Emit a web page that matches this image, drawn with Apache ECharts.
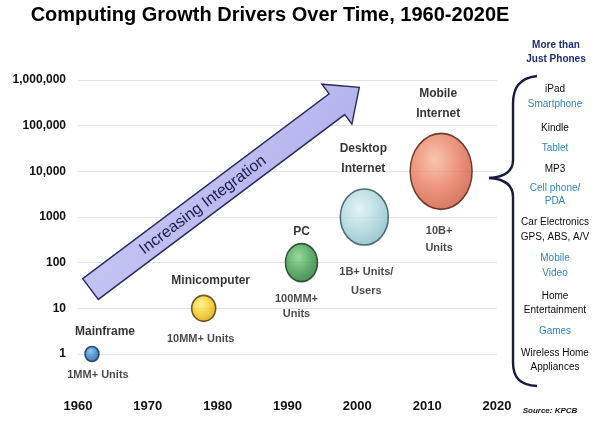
<!DOCTYPE html>
<html>
<head>
<meta charset="utf-8">
<title>Computing Growth Drivers Over Time</title>
<script src="https://cdn.jsdelivr.net/npm/echarts@6/dist/echarts.min.js"></script>
<style>
  html, body { margin: 0; padding: 0; background: #ffffff; }
  #chart { width: 596px; height: 421px; }
</style>
</head>
<body>
<div id="chart"></div>
<script>
// ---- data ----
const eras = ['Mainframe', 'Minicomputer', 'PC', 'Desktop\nInternet', 'Mobile\nInternet'];
const eraYears = [1962, 1978, 1992, 2001, 2012];
const unitsMM = [1, 10, 100, 1000, 10000];          // installed units, millions
const unitText = ['1MM+ Units', '10MM+ Units', '100MM+\nUnits', '1B+ Units/\nUsers', '10B+\nUnits'];

const xTicks = [1960, 1970, 1980, 1990, 2000, 2010, 2020];
const yTicks = [1, 10, 100, 1000, 10000, 100000, 1000000];
const yTickText = ['1', '10', '100', '1000', '10,000', '100,000', '1,000,000'];

const deviceItems = ['iPad', 'Smartphone', 'Kindle', 'Tablet', 'MP3', 'Cell phone/\nPDA',
  'Car Electronics\nGPS, ABS, A/V', 'Mobile\nVideo', 'Home\nEntertainment', 'Games',
  'Wireless Home\nAppliances'];
const deviceHighlight = [false, true, false, true, false, true, false, true, false, true, false];

// ---- styling ----
const FONT = '"Liberation Sans", Arial, sans-serif';
const NARROW = '"Liberation Sans Narrow", "Arial Narrow", "Liberation Sans", sans-serif';

const bubbleSize = [[14, 15], [24, 26], [32, 38], [48, 56], [62, 76]];
const bubbleFill = [
  ['#6fb8ee', '#2a78bf', '#15507f'],
  ['#fff07a', '#f2c514', '#c79a00'],
  ['#7fcf86', '#3c9a48', '#236b2e'],
  ['#dcf0f3', '#a9d5dd', '#7fb5c0'],
  ['#f7b79b', '#e8775a', '#c9533a']
];
const bubbleEdge = ['#0c2c4c', '#4a3600', '#0f3517', '#2a4a52', '#4a1c10'];
const nameOffset = [[13, -22], [7, -28], [0, -31], [-1, -58], [-3, -68]];
const unitOffset = [[6, 21], [-3, 31], [-5, 44], [2, 64], [-2, 68]];
const nameLineH = [14, 14, 14, 20, 20];
const unitLineH = [14, 14, 15, 19, 17];

// vertical centre and line height of each entry in the device list
const listY = [89, 104, 128, 148, 169, 195, 230, 265.5, 303, 331, 360];
const listLH = [14, 14, 14, 14, 14, 13, 15, 15, 14, 14, 14];

const chart = echarts.init(document.getElementById('chart'), null, { renderer: 'canvas' });

function radial(stops) {
  return {
    type: 'radial', x: 0.4, y: 0.35, r: 0.7,
    colorStops: [
      { offset: 0, color: stops[0] },
      { offset: 0.55, color: stops[1] },
      { offset: 1, color: stops[2] }
    ]
  };
}

const bubbleData = eraYears.map((yr, i) => ({
  value: [yr, unitsMM[i]],
  symbolSize: bubbleSize[i],
  itemStyle: { color: radial(bubbleFill[i]), borderColor: bubbleEdge[i], borderWidth: 1.6 },
  label: {
    formatter: eras[i],
    offset: nameOffset[i],
    lineHeight: nameLineH[i]
  }
}));

const unitData = eraYears.map((yr, i) => ({
  value: [yr, unitsMM[i]],
  label: {
    formatter: unitText[i],
    offset: unitOffset[i],
    lineHeight: unitLineH[i]
  }
}));

// Arrow "Increasing Integration": shaft along a 36.9 degree heading
const arrowPts = [
  [82.7, 278.6], [329.1, 93.8], [321.9, 84.2], [359.3, 87.4],
  [351.9, 124.2], [344.7, 114.6], [98.3, 299.4]
];

// Curly brace grouping the device list
const braceStyle = { stroke: '#161a40', lineWidth: 2.4, fill: 'none' };
const braceParts = [
  { type: 'bezierCurve', shape: { x1: 537, y1: 76, cpx1: 519, cpy1: 78, cpx2: 513, cpy2: 88, x2: 513, y2: 104 } },
  { type: 'line', shape: { x1: 513, y1: 104, x2: 513, y2: 160 } },
  { type: 'bezierCurve', shape: { x1: 513, y1: 160, cpx1: 513, cpy1: 171, cpx2: 506, cpy2: 177, x2: 489, y2: 178 } },
  { type: 'bezierCurve', shape: { x1: 489, y1: 178, cpx1: 506, cpy1: 179, cpx2: 513, cpy2: 186, x2: 513, y2: 197 } },
  { type: 'line', shape: { x1: 513, y1: 197, x2: 513, y2: 362 } },
  { type: 'bezierCurve', shape: { x1: 513, y1: 362, cpx1: 513, cpy1: 378, cpx2: 520, cpy2: 385, x2: 537, y2: 386 } }
].map(p => Object.assign(p, { z: 12, silent: true, style: braceStyle }));

// Right-hand list of device categories
const listGraphics = deviceItems.map((txt, i) => ({
  type: 'text', x: 555, y: listY[i], z: 20,
  style: {
    text: txt, font: '10px ' + NARROW, lineHeight: listLH[i],
    fill: deviceHighlight[i] ? '#2f86c3' : '#0a0a0a',
    align: 'center', verticalAlign: 'middle'
  }
}));

const option = {
  animation: false,
  backgroundColor: '#ffffff',
  grid: { left: 78, right: 99, top: 80, bottom: 67 },
  xAxis: {
    type: 'value', min: 1960, max: 2020, interval: 10,
    axisLine: { show: false }, axisTick: { show: false }, splitLine: { show: false },
    axisLabel: {
      margin: 46, fontFamily: FONT, fontSize: 13, fontWeight: 'bold', color: '#111',
      formatter: v => (xTicks.indexOf(v) >= 0 ? String(v) : '')
    }
  },
  yAxis: {
    type: 'log', logBase: 10, min: 1, max: 1000000,
    axisLine: { show: false }, axisTick: { show: false },
    splitLine: { show: true, lineStyle: { color: '#e4e4e4', width: 1 } },
    axisLabel: {
      margin: 12, fontFamily: FONT, fontSize: 12, fontWeight: 'bold', color: '#111',
      formatter: v => {
        const k = yTicks.findIndex(t => Math.abs(t - v) / t < 1e-6);
        return k >= 0 ? yTickText[k] : '';
      }
    }
  },
  series: [
    {
      type: 'scatter', z: 5,
      data: bubbleData,
      label: {
        show: true, position: 'inside', align: 'center', verticalAlign: 'middle',
        fontFamily: FONT, fontSize: 12, fontWeight: 'bold', color: '#000',
        textBorderWidth: 0
      },
      emphasis: { disabled: true }
    },
    {
      type: 'scatter', z: 4, silent: true,
      symbolSize: 1, itemStyle: { color: 'rgba(0,0,0,0)' },
      data: unitData,
      label: {
        show: true, position: 'inside', align: 'center', verticalAlign: 'middle',
        fontFamily: FONT, fontSize: 11, fontWeight: 'bold', color: '#1a1a1a',
        textBorderWidth: 0
      },
      emphasis: { disabled: true }
    }
  ],
  graphic: [
    {
      type: 'text', z: 20, x: 270, y: 15,
      style: {
        text: 'Computing Growth Drivers Over Time, 1960-2020E',
        font: 'bold 20px ' + FONT, fill: '#000',
        align: 'center', verticalAlign: 'middle'
      }
    },
    {
      type: 'polygon', z: 10,
      shape: { points: arrowPts },
      style: {
        fill: {
          type: 'linear', x: 0, y: 0, x2: 1, y2: 1,
          colorStops: [{ offset: 0, color: '#d6d6fa' }, { offset: 1, color: '#a2a2e6' }]
        },
        stroke: '#2b2b5a', lineWidth: 1.4, lineJoin: 'miter'
      }
    },
    {
      type: 'text', z: 11, x: 203, y: 205, rotation: 0.6435,
      style: {
        text: 'Increasing Integration', font: '16px ' + FONT, fill: '#1c1c4a',
        align: 'center', verticalAlign: 'middle'
      }
    },
    ...braceParts,
    {
      type: 'text', z: 20, x: 556, y: 52,
      style: {
        text: 'More than\nJust Phones', font: 'bold 10px ' + NARROW, lineHeight: 14,
        fill: '#1f2c7c', align: 'center', verticalAlign: 'middle'
      }
    },
    ...listGraphics,
    {
      type: 'text', z: 20, x: 550, y: 411,
      style: {
        text: 'Source: KPCB', font: 'italic bold 8px ' + FONT, fill: '#111',
        align: 'center', verticalAlign: 'middle'
      }
    }
  ]
};

chart.setOption(option);
</script>
</body>
</html>
